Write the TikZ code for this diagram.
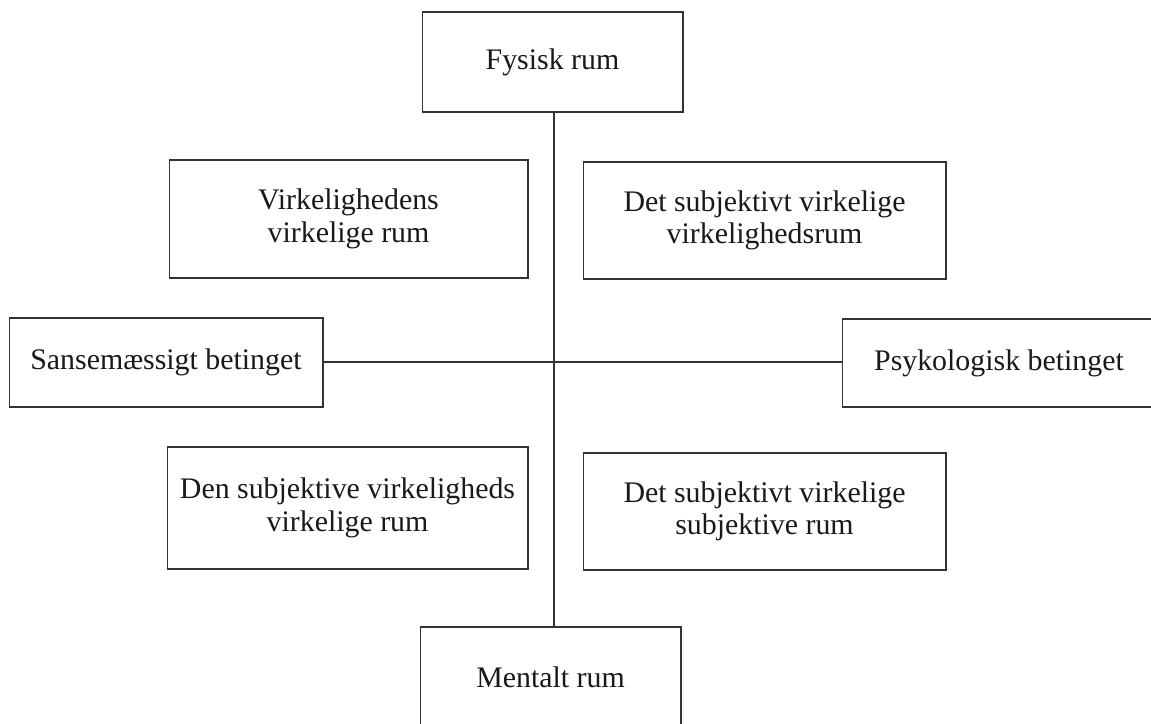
\documentclass[tikz,border=0pt]{standalone}
\usepackage{fontspec}
\setmainfont{Liberation Serif}
\tikzset{
	felt/.style={draw=black!80,line width=0.6pt,align=center,inner sep=0pt,
		font=\fontsize{17}{18.5}\selectfont,text=black!90},
	akse/.style={draw=black!80,line width=0.6pt}
}
\begin{document}
\begin{tikzpicture}[x=0.02cm,y=-0.02cm]
	% Rammen (1 enhed = 1 pixel)
	\def\brd{1151} \def\hjd{723}
	\useasboundingbox (0,0) rectangle (\brd,\hjd);
	\clip (0,0) rectangle (\brd,\hjd);
	%
	% Akserne
	\node[felt,minimum width=5.22cm,minimum height=2cm] (fys) at (552.5,62) {Fysisk rum};
	\node[felt,minimum width=5.22cm,minimum height=2cm] (ment) at (550.5,677) {Mentalt rum};
	\node[felt,minimum width=6.28cm,minimum height=1.78cm] (sans) at (166,362.5) {Sansemæssigt betinget};
	\node[felt,minimum width=6.28cm,minimum height=1.76cm] (psyk) at (999,363) {Psykologisk betinget};
	%
	% De fire felter
	\node[felt,minimum width=7.18cm,minimum height=2.36cm] (vvr) at (348.5,219) {Virkelighedens\\virkelige rum};
	\node[felt,minimum width=7.26cm,minimum height=2.34cm] (svv) at (764.5,220.5) {Det subjektivt virkelige\\virkelighedsrum};
	\node[felt,minimum width=7.22cm,minimum height=2.44cm] (dsv) at (347.5,508) {Den subjektive virkeligheds\\virkelige rum};
	\node[felt,minimum width=7.26cm,minimum height=2.34cm] (svs) at (764.5,511.5) {Det subjektivt virkelige\\subjektive rum};
	%
	% Krydset
	\coordinate (midt) at (554,362);
	\draw[akse] (midt |- fys.south) -- (midt |- ment.north);
	\draw[akse] (sans.east |- midt) -- (psyk.west |- midt);
\end{tikzpicture}
\end{document}
